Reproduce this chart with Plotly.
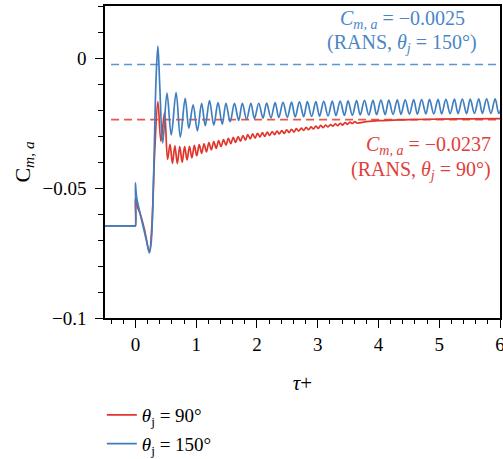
import plotly.graph_objects as go

# Time axis τ+ and moment coefficient C_m,a for the two jet angles.
# Each list holds the transient followed by the oscillation extrema.
tau_90 = [-0.5, -0.01, 0.0, 0.0, 0.03, 0.08, 0.15, 0.23, 0.27, 0.32, 0.37, 0.42, 0.48, 0.53,
          0.57, 0.61, 0.65, 0.69, 0.73, 0.77, 0.81, 0.85, 0.89, 0.93, 0.97, 1.01,
          1.05, 1.09, 1.13, 1.17, 1.21, 1.25, 1.29, 1.33, 1.37, 1.41, 1.45, 1.49,
          1.53, 1.57, 1.61, 1.65, 1.69, 1.73, 1.77, 1.81, 1.85, 1.89, 1.93, 1.97,
          2.01, 2.05, 2.09, 2.13, 2.17, 2.21, 2.25, 2.29, 2.33, 2.37, 2.41, 2.45,
          2.49, 2.53, 2.57, 2.61, 2.65, 2.69, 2.73, 2.77, 2.81, 2.85, 2.89, 2.93,
          2.97, 3.01, 3.05, 3.09, 3.13, 3.17, 3.21, 3.25, 3.29, 3.33, 3.37, 3.41,
          3.45, 3.49, 3.53, 3.57, 3.61, 3.65, 3.8, 4.0, 4.25, 4.5, 5.0, 5.5, 6.0]
cm_90 = [-0.0646, -0.0646, -0.0646, -0.054, -0.057, -0.060, -0.066, -0.0745, -0.065, -0.035,
         -0.0168, -0.032, -0.021, -0.039,
         -0.0332, -0.0405, -0.0338, -0.0406, -0.0341, -0.0401, -0.0341, -0.0392,
         -0.0340, -0.0384, -0.0336, -0.0376, -0.0333, -0.0367, -0.0330, -0.0361,
         -0.0325, -0.0353, -0.0322, -0.0347, -0.0318, -0.0341, -0.0314, -0.0335,
         -0.0309, -0.0329, -0.0305, -0.0325, -0.0302, -0.0320, -0.0298, -0.0316,
         -0.0295, -0.0311, -0.0292, -0.0308, -0.0290, -0.0304, -0.0287, -0.0302,
         -0.0285, -0.0298, -0.0283, -0.0295, -0.0281, -0.0292, -0.0279, -0.0290,
         -0.0276, -0.0287, -0.0274, -0.0285, -0.0272, -0.0281, -0.0270, -0.0278,
         -0.0267, -0.0276, -0.0265, -0.0273, -0.0262, -0.0271, -0.0259, -0.0268,
         -0.0258, -0.0265, -0.0256, -0.0262, -0.0253, -0.0260, -0.0251, -0.0258,
         -0.0248, -0.0255, -0.0247, -0.0252, -0.0245, -0.0250,
         -0.0245, -0.0241, -0.0239, -0.0237, -0.0235, -0.0234, -0.0233]

tau_150 = [-0.5, -0.01, 0.0, 0.0, 0.02, 0.09, 0.18, 0.23, 0.26, 0.30, 0.34, 0.37, 0.40, 0.45,
           0.52, 0.59, 0.67, 0.74, 0.82, 0.88, 0.95, 1.02, 1.09, 1.15, 1.22, 1.29,
           1.36, 1.43, 1.49, 1.56, 1.63, 1.70, 1.76, 1.83, 1.90, 1.96, 2.03, 2.10,
           2.16, 2.23, 2.30, 2.36, 2.43, 2.50, 2.57, 2.63, 2.70, 2.77, 2.83, 2.90,
           2.97, 3.03, 3.10, 3.17, 3.24, 3.30, 3.37, 3.44, 3.50, 3.57, 3.64, 3.70,
           3.77, 3.84, 3.91, 3.97, 4.04, 4.11, 4.17, 4.24, 4.31, 4.37, 4.44, 4.51,
           4.58, 4.64, 4.71, 4.78, 4.84, 4.91, 4.98, 5.04, 5.11, 5.18, 5.25, 5.31,
           5.38, 5.45, 5.51, 5.58, 5.65, 5.71, 5.78, 5.85, 5.92, 5.98, 6.05]
cm_150 = [-0.0646, -0.0646, -0.0646, -0.048, -0.0535, -0.061, -0.070, -0.075, -0.071, -0.045,
          -0.008, 0.0046, -0.010, -0.0327,
          -0.0135, -0.0296, -0.0133, -0.0304, -0.0155, -0.0270, -0.0180, -0.0280,
          -0.0174, -0.0260, -0.0164, -0.0258,
          -0.0172, -0.0255, -0.0174, -0.0245, -0.0174, -0.0240, -0.0174, -0.0236,
          -0.0174, -0.0233, -0.0174, -0.0231, -0.0173, -0.0230, -0.0172, -0.0229,
          -0.0171, -0.0228, -0.0170, -0.0227, -0.0169, -0.0226, -0.0168, -0.0225,
          -0.0168, -0.0224, -0.0167, -0.0223, -0.0166, -0.0222, -0.0166, -0.0221,
          -0.0165, -0.0220, -0.0164, -0.0219, -0.0163, -0.0219, -0.0163, -0.0218,
          -0.0162, -0.0218, -0.0162, -0.0217, -0.0161, -0.0217, -0.0161, -0.0216,
          -0.0160, -0.0216, -0.0160, -0.0215, -0.0159, -0.0215, -0.0159, -0.0215,
          -0.0159, -0.0214, -0.0158, -0.0214, -0.0158, -0.0214, -0.0158, -0.0213,
          -0.0157, -0.0213, -0.0157, -0.0213, -0.0157, -0.0213, -0.0157]

# Steady RANS reference values
rans_angles = [90, 150]
rans_cm = [-0.0237, -0.0025]
rans_tau_span = [-0.4, 6.0]

RED = "#e0362c"
BLUE = "#3f7fc0"
RED_DASH = "#e8574d"
BLUE_DASH = "#5c95d0"
RED_TEXT = "#e0403a"
BLUE_TEXT = "#4a86c6"
FONT = "Liberation Serif"

fig = go.Figure()

# RANS reference lines underneath the time histories
for cm, col in zip(rans_cm, [RED_DASH, BLUE_DASH]):
    fig.add_trace(go.Scatter(
        x=rans_tau_span, y=[cm, cm], mode="lines",
        line=dict(color=col, width=1.6, dash="8px,5px"),
        showlegend=False, hoverinfo="skip"))

fig.add_trace(go.Scatter(
    x=tau_90, y=cm_90, mode="lines",
    line=dict(color=RED, width=1.7, shape="spline", smoothing=1.0),
    name="<i>θ</i><sub>j</sub> = 90°", legendgroup="a"))
fig.add_trace(go.Scatter(
    x=tau_150, y=cm_150, mode="lines",
    line=dict(color=BLUE, width=1.7, shape="spline", smoothing=1.0),
    name="<i>θ</i><sub>j</sub> = 150°", legendgroup="b"))


def fmt(v):
    return f"{v:.4f}".replace("-", "\u2212")


# Labels for the RANS values, one annotation per text line
labels = [
    (4.39, rans_cm[1], 45, "center", BLUE_TEXT,
     f"<i>C</i><sub><i>m, a</i></sub> = {fmt(rans_cm[1])}"),
    (4.39, rans_cm[1], 21, "center", BLUE_TEXT,
     f"(RANS, <i>θ</i><sub><i>j</i></sub> = {rans_angles[1]}°)"),
    (5.88, rans_cm[0], -26, "right", RED_TEXT,
     f"<i>C</i><sub><i>m, a</i></sub> = {fmt(rans_cm[0])}"),
    (5.89, rans_cm[0], -51, "right", RED_TEXT,
     f"(RANS, <i>θ</i><sub><i>j</i></sub> = {rans_angles[0]}°)"),
]
for x, y, dy, anchor, col, txt in labels:
    fig.add_annotation(
        x=x, y=y, yshift=dy, xanchor=anchor, yanchor="middle", showarrow=False,
        text=txt, font=dict(family=FONT, size=20, color=col))

axis_common = dict(
    showline=True, linecolor="black", linewidth=1.5, mirror=True,
    ticks="outside", ticklen=8, tickwidth=1.2, tickcolor="black",
    showgrid=False, zeroline=False, ticklabeloverflow="allow",
    tickfont=dict(family=FONT, size=19, color="black"),
)

fig.update_xaxes(
    range=[-0.5, 6.0], dtick=1, tick0=0, ticklabelstandoff=0,
    minor=dict(dtick=0.2, ticks="outside", ticklen=4, tickcolor="black", tickwidth=1),
    title=dict(text="<i>τ</i>+", font=dict(family=FONT, size=21, color="black"), standoff=22),
    **axis_common)
fig.update_yaxes(
    range=[-0.1, 0.02], tickvals=[-0.1, -0.05, 0], ticktext=["\u22120.1", "\u22120.05", "0"],
    ticklabelstandoff=5,
    minor=dict(dtick=0.01, ticks="outside", ticklen=5, tickcolor="black", tickwidth=1),
    title=dict(text='C<sub><i>m, a</i></sub>',
               font=dict(family=FONT, size=22, color="black"), standoff=6),
    **axis_common)

fig.update_layout(
    width=503, height=459,
    margin=dict(l=105, r=3, t=6, b=141, autoexpand=False),
    plot_bgcolor="white", paper_bgcolor="white",
    showlegend=True,
    legend=dict(
        x=-0.008, y=-0.25, xanchor="left", yanchor="top",
        traceorder="grouped", tracegroupgap=1,
        font=dict(family=FONT, size=19, color="black"),
        bgcolor="rgba(0,0,0,0)", itemwidth=30),
)

fig.write_html("out.html")
